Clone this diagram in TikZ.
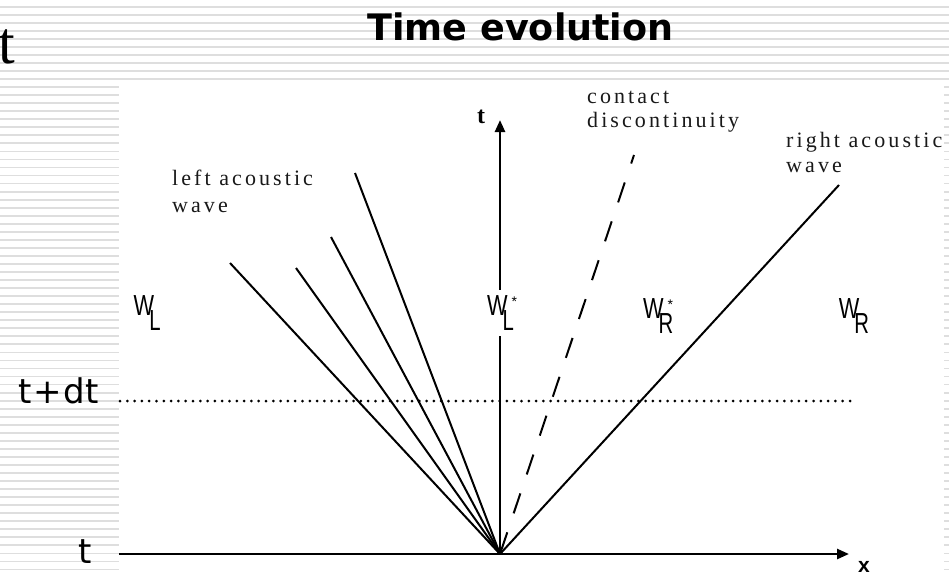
\documentclass[tikz,border=0pt]{standalone}
\usepackage{fontspec}
\usepackage{graphicx}
\setmainfont{Liberation Serif}
\newfontfamily\dejavu{DejaVu Sans}
\newfontfamily\libsans{Liberation Sans}
\newfontfamily\spacedserif[LetterSpace=14]{Liberation Serif}
\usetikzlibrary{arrows.meta}
\newcommand\Wlab[2]{{\libsans\fontsize{29}{29}\selectfont\scalebox{0.75}[1]{W}\kern-5pt\rlap{\raisebox{-15pt}{\scalebox{0.7}[1]{#1}}}\kern9pt\raisebox{9pt}{\fontsize{14}{14}\selectfont #2}}}
\tikzset{
  stripe/.style={draw=black!13, line width=1.8pt},
  axis/.style={line width=2.5pt, -{Triangle[length=12pt,width=10pt]}},
  wave/.style={line width=2pt},
  contact/.style={line width=2pt, dash pattern=on 21pt off 20pt, dash phase=12pt},
  level/.style={line width=3pt, line cap=round, dash pattern=on 0pt off 7.3pt},
  spaced/.style={inner sep=0pt, anchor=base west, font=\spacedserif\fontsize{22}{22}\selectfont, text=black!90},
  state/.style={inner sep=0pt, anchor=center}
}
\begin{document}
\begin{tikzpicture}[x=1pt,y=-1pt]
\useasboundingbox (0,0) rectangle (949,576);
\fill[white] (0,0) rectangle (949,576);
\foreach \k in {0,...,71} \draw[stripe] (0,6.7+8.04*\k) -- (949,6.7+8.04*\k);
\fill[white] (119,83) rectangle (944,577);

% titles
\node[inner sep=0pt, anchor=base] (title) at (520.5,40) {\dejavu\bfseries\fontsize{36.5}{36.5}\selectfont Time evolution};
\node[inner sep=0pt, anchor=base west] (bigt) at (-1.5,63) {\fontsize{60}{60}\selectfont t};

% coordinates
\coordinate (O) at (500,554);
\coordinate (xs) at (119,554);
\coordinate (xe) at (849,554);
\coordinate (te) at (500,120);
\coordinate (L1) at (230,263);
\coordinate (L2) at (296,268);
\coordinate (L3) at (331,237);
\coordinate (L4) at (355,173);
\coordinate (C) at (634,155);
\coordinate (R) at (839,185);
\coordinate (ds) at (120,401);
\coordinate (de) at (857,401);

% level line t+dt
\draw[level] (ds) -- (de);

% axes
\draw[axis] (xs) -- (xe);
\draw[axis] (O) -- (te);

% waves
\draw[wave] (O) -- (L1);
\draw[wave] (O) -- (L2);
\draw[wave] (O) -- (L3);
\draw[wave] (O) -- (L4);
\draw[wave] (O) -- (R);
\draw[contact] (C) -- (O);

% axis labels
\node[inner sep=0pt, anchor=base] (tlab) at (481,123) {\bfseries\fontsize{24}{24}\selectfont t};
\node[inner sep=0pt, anchor=base] (xlab) at (864,572.5) {\libsans\bfseries\fontsize{21}{21}\selectfont x};
\node[inner sep=0pt, anchor=base] (tbot) at (85,563) {\dejavu\fontsize{34}{34}\selectfont t};
\node[inner sep=0pt, anchor=base west] (tdt) at (18,403) {\dejavu\fontsize{34}{34}\selectfont t\kern2pt+\kern2pt dt};

% wave labels
\node[spaced] (la1) at (172,185) {left acoustic};
\node[spaced] (la2) at (172,212) {wave};
\node[spaced] (cd1) at (587,103) {contact};
\node[spaced] (cd2) at (587,127) {discontinuity};
\node[spaced] (ra1) at (786,147) {right acoustic};
\node[spaced] (ra2) at (786,172) {wave};

% state labels
\node[state] (WL) at (146,313) {\Wlab{L}{}};
\node[state, fill=white, inner ysep=6pt, inner xsep=1pt] (WLs) at (502,313) {\Wlab{L}{*}};
\node[state] (WRs) at (658,316) {\Wlab{R}{*}};
\node[state] (WR) at (851,316) {\Wlab{R}{}};
\end{tikzpicture}
\end{document}
